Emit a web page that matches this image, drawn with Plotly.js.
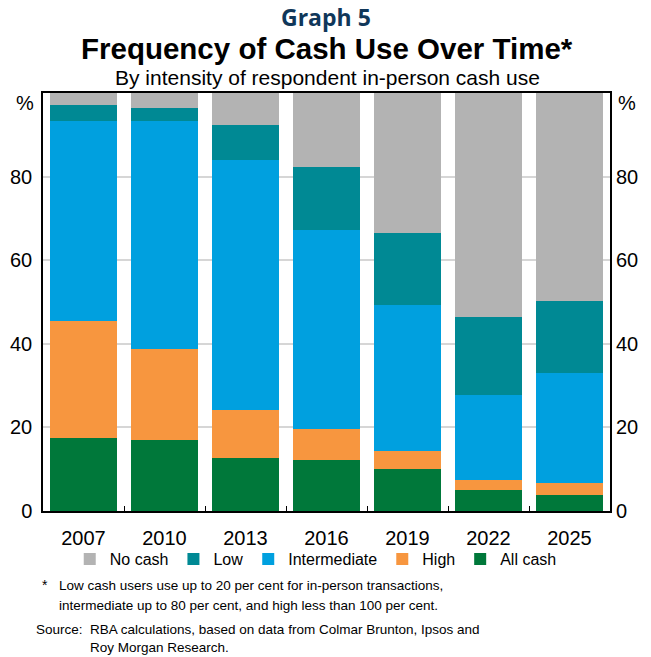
<!DOCTYPE html>
<html>
<head>
<meta charset="utf-8">
<script src="https://cdn.plot.ly/plotly-3.0.1.min.js"></script>
<style>
  html, body { margin: 0; padding: 0; background: #ffffff; }
  #chart { width: 651px; height: 657px; }
</style>
</head>
<body>
<div id="chart"></div>
<script>
// Survey years
const years = ['2007', '2010', '2013', '2016', '2019', '2022', '2025'];

// Share of respondents by intensity of in-person cash use, per cent
const allCash      = [17.5, 17.0, 12.8, 12.3, 10.1, 5.1, 3.9];
const highUse      = [28.0, 21.8, 11.4, 7.2, 4.3, 2.4, 2.9];
const intermediate = [47.9, 54.4, 59.8, 47.8, 35.0, 20.3, 26.1];
const lowUse       = [3.8, 3.1, 8.4, 14.9, 17.0, 18.6, 17.4];
const noCash       = [2.8, 3.7, 7.6, 17.8, 33.6, 53.6, 49.7];

const yTicks = [0, 20, 40, 60, 80];

const FONT = 'Liberation Sans, Arial, sans-serif';

function bar(name, values, color) {
  return {
    type: 'bar', name: name, x: years, y: values,
    marker: { color: color, line: { width: 0 } },
    hoverinfo: 'name+y'
  };
}

const traces = [
  bar('All cash', allCash, '#00783a'),
  bar('High', highUse, '#f7963f'),
  bar('Intermediate', intermediate, '#00a0df'),
  bar('Low', lowUse, '#008994'),
  bar('No cash', noCash, '#b3b3b3'),
  // carries the right-hand value axis
  { type: 'scatter', x: [], y: [], yaxis: 'y2', showlegend: false, hoverinfo: 'skip' }
];

// plot area runs from 0 to 1 in paper units; convert pixel positions around it
const W = 651, H = 657;
const plotLeft = 43, plotRight = 610, plotTop = 93, plotBottom = 511;
function py(p) { return (plotBottom - p) / (plotBottom - plotTop); }
function px(p) { return (p - plotLeft) / (plotRight - plotLeft); }

function note(text, x, y, size) {
  return { text: text, xref: 'paper', yref: 'paper', x: px(x), y: py(y),
    xanchor: 'left', yanchor: 'middle', align: 'left', showarrow: false,
    font: { family: FONT, size: size, color: '#000000' } };
}

const layout = {
  width: W, height: H,
  margin: { l: plotLeft, r: W - plotRight, t: plotTop, b: H - plotBottom, pad: 0, autoexpand: false },
  paper_bgcolor: '#ffffff', plot_bgcolor: '#ffffff',
  font: { family: FONT, color: '#000000' },
  barmode: 'stack',
  bargap: 0.17,
  showlegend: true,
  legend: {
    orientation: 'h', traceorder: 'reversed',
    xref: 'container', yref: 'container',
    x: 0.485, xanchor: 'center',
    y: 1 - 559 / H, yanchor: 'middle',
    font: { family: FONT, size: 16, color: '#000000' },
    itemwidth: 30, itemsizing: 'constant', tracegroupgap: 0,
    bgcolor: 'rgba(0,0,0,0)'
  },
  xaxis: {
    type: 'category', automargin: false, tickangle: 0,
    showline: true, linecolor: '#000000', linewidth: 1.5, mirror: true,
    ticks: 'inside', tickson: 'boundaries', ticklen: 5, tickcolor: '#000000', tickwidth: 1,
    tickfont: { family: FONT, size: 20, color: '#000000' },
    ticklabelstandoff: 8,
    showgrid: false, zeroline: false, fixedrange: true
  },
  yaxis: {
    range: [0, 100], tickvals: yTicks, ticktext: yTicks.map(String), automargin: false,
    showline: true, linecolor: '#000000', linewidth: 1.5, mirror: true,
    ticks: '', ticklabelstandoff: 5,
    tickfont: { family: FONT, size: 20, color: '#000000' },
    showgrid: true, gridcolor: '#d6d6d6', gridwidth: 1.5,
    zeroline: false, fixedrange: true
  },
  yaxis2: {
    overlaying: 'y', side: 'right', range: [0, 100], automargin: false,
    tickvals: yTicks, ticktext: yTicks.map(String),
    ticks: '', ticklabelstandoff: 5, showline: false, showgrid: false, zeroline: false,
    tickfont: { family: FONT, size: 20, color: '#000000' }, fixedrange: true
  },
  annotations: [
    { text: '<b>Graph 5</b>', xref: 'paper', yref: 'paper', x: px(326), y: py(17),
      xanchor: 'center', yanchor: 'middle', showarrow: false,
      font: { family: 'Open Sans, sans-serif', size: 23, color: '#10375a' } },
    { text: '<b>Frequency of Cash Use Over Time*</b>', xref: 'paper', yref: 'paper', x: px(327), y: py(49),
      xanchor: 'center', yanchor: 'middle', showarrow: false,
      font: { family: FONT, size: 29.5, color: '#000000' } },
    { text: 'By intensity of respondent in-person cash use', xref: 'paper', yref: 'paper', x: px(327), y: py(77),
      xanchor: 'center', yanchor: 'middle', showarrow: false,
      font: { family: FONT, size: 21, color: '#000000' } },
    { text: '%', xref: 'paper', yref: 'paper', x: px(36), y: py(103),
      xanchor: 'right', yanchor: 'middle', showarrow: false,
      font: { family: FONT, size: 20, color: '#000000' } },
    { text: '%', xref: 'paper', yref: 'paper', x: px(616), y: py(103),
      xanchor: 'left', yanchor: 'middle', showarrow: false,
      font: { family: FONT, size: 20, color: '#000000' } },
    note('*', 40, 585, 14),
    note('Low cash users use up to 20 per cent for in-person transactions,', 57, 585, 13.5),
    note('intermediate up to 80 per cent, and high less than 100 per cent.', 57, 605, 13.5),
    note('Source:', 34, 629, 13.5),
    note('RBA calculations, based on data from Colmar Brunton, Ipsos and', 88, 629, 13.5),
    note('Roy Morgan Research.', 88, 647, 13.5)
  ]
};

Plotly.newPlot('chart', traces, layout, { displayModeBar: false });
</script>
</body>
</html>
